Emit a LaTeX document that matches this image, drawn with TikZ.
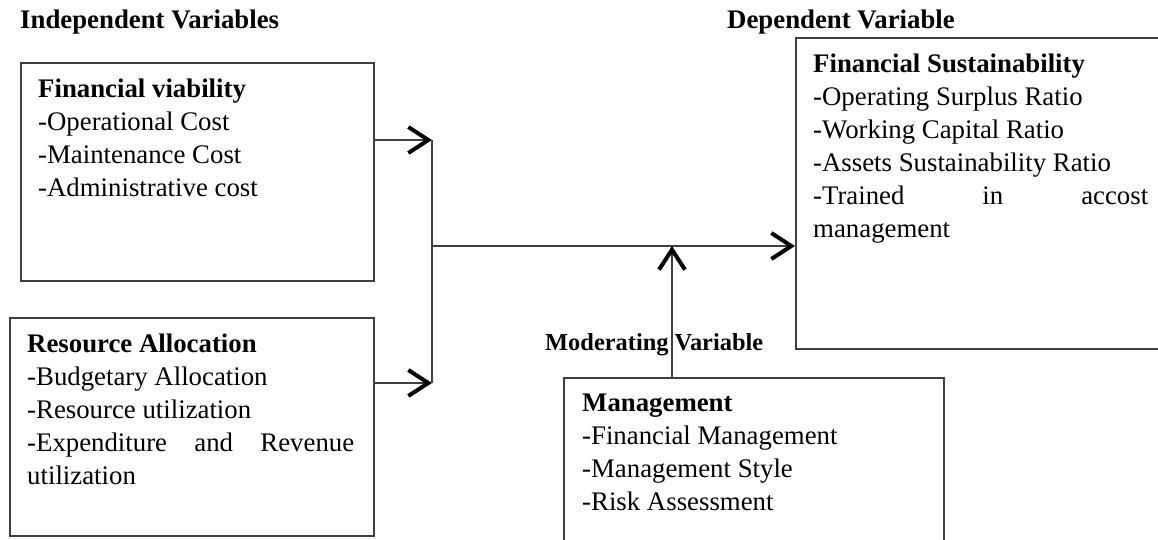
\documentclass[tikz,border=0pt]{standalone}
\usepackage{fontspec}
\setmainfont{Liberation Serif}
\usetikzlibrary{arrows.meta}

\begin{document}
\begin{tikzpicture}[x=1pt, y=-1pt,
	box/.style={draw=black!75, line width=1.8pt, anchor=north west, inner sep=0pt},
	txt/.style={anchor=north west, inner sep=0pt, align=justify, font=\fontsize{26.8}{33}\selectfont},
	head/.style={anchor=base west, inner sep=0pt, font=\fontsize{26.8}{33}\selectfont\bfseries},
	arr/.style={draw=black!75, line width=1.8pt, -{Straight Barb[length=20pt, width=26pt, line width=4pt, color=black]}}]

	\useasboundingbox (0,0) rectangle (1158,539);

	% headings
	\node[head] (indep) at (20,28) {Independent Variables};
	\node[head] (dep)   at (727,28) {Dependent Variable};
	\node[head, font=\fontsize{24.4}{30}\selectfont\bfseries] (moder) at (545,350) {Moderating Variable};

	% boxes
	\node[box, minimum width=353pt, minimum height=218pt] (viab) at (20,62)  {};
	\node[box, minimum width=364pt, minimum height=218pt] (res)  at (9,317)  {};
	\node[box, minimum width=372pt, minimum height=311pt] (sust) at (795,37) {};
	\node[box, minimum width=380pt, minimum height=175pt] (mgmt) at (563,377) {};

	\node[txt, text width=316pt] (viabtxt) at ([shift={(18,17)}]viab.north west)
		{\textbf{Financial viability}\\ -Operational Cost\\ -Maintenance Cost\\ -Administrative cost};
	\node[txt, text width=327pt] (restxt) at ([shift={(18,17)}]res.north west)
		{\textbf{Resource Allocation}\\ -Budgetary Allocation\\ -Resource utilization\\ -Expenditure and Revenue\linebreak utilization};
	\node[txt, text width=335pt] (susttxt) at ([shift={(18,17)}]sust.north west)
		{\textbf{Financial Sustainability}\\ -Operating Surplus Ratio\\ -Working Capital Ratio\\ -Assets Sustainability Ratio\\ -Trained in accost\linebreak management};
	\node[txt, text width=342pt] (mgmttxt) at ([shift={(19,17)}]mgmt.north west)
		{\textbf{Management}\\ -Financial Management\\ -Management Style\\ -Risk Assessment};

	% connectors
	\coordinate (j1) at (432,140);
	\coordinate (j2) at (432,383);
	\coordinate (j3) at (432,246);
	\coordinate (j4) at (672,246);

	\draw[arr] (viab.east |- j1) -- (j1);
	\draw[arr] (res.east |- j2) -- (j2);
	\draw[draw=black!75, line width=1.8pt] (j1) -- (j2);
	\draw[arr] (j3) -- (sust.west |- j3);
	\draw[arr] (j4 |- mgmt.north) -- (j4);

\end{tikzpicture}
\end{document}
